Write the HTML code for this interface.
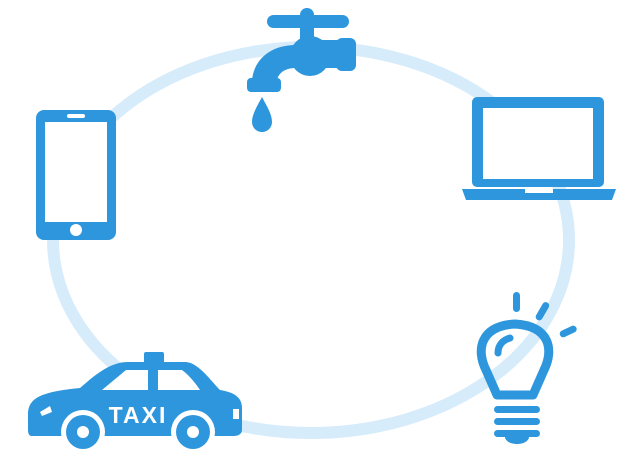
<!DOCTYPE html>
<html><head><style>html,body{margin:0;padding:0;background:#fff;}svg{display:block}</style></head>
<body>
<svg width="620" height="460" viewBox="0 0 620 460" xmlns="http://www.w3.org/2000/svg">
<ellipse cx="311" cy="240" rx="258" ry="193" fill="none" stroke="#d7ecfb" stroke-width="12"/>
<g fill="#2d96dd" stroke="none">
<rect x="267" y="15" width="82" height="13" rx="6.5"/>
<rect x="300" y="8" width="14" height="40" rx="7"/>
<circle cx="310" cy="56" r="20"/>
<rect x="318" y="40" width="24" height="28"/>
<rect x="336" y="38" width="20" height="33" rx="6"/>
<path d="M296 45 C270 45 254 60 252 80 L277 80 C279 72 286 68 296 68 Z"/>
<rect x="247" y="78" width="34" height="14" rx="4"/>
<path d="M262 97 C256 108 252 115 252 122 A10 10 0 0 0 272 122 C272 115 268 108 262 97Z"/>
<rect x="36" y="110" width="80" height="130" rx="8"/>
<rect x="45" y="122" width="62" height="100" fill="#fff"/>
<rect x="67" y="114" width="18" height="4" rx="2" fill="#fff"/>
<circle cx="76" cy="230" r="6" fill="#fff"/>
<rect x="472" y="97" width="132" height="90" rx="5"/>
<rect x="483" y="108" width="110" height="71" fill="#fff"/>
<path d="M462 189 H616 L612 200 H466 Z"/>
<rect x="525" y="189" width="28" height="4" fill="#fff"/>
<rect x="513" y="292" width="7" height="20" rx="3.5"/>
<rect x="539" y="301" width="7" height="20" rx="3.5" transform="rotate(30 542 311)"/>
<rect x="565" y="322" width="7" height="18" rx="3.5" transform="rotate(65 568 331)"/>
</g>
<g fill="none" stroke="#2d96dd" stroke-linecap="round">
<path d="M497 395 L486 370 C476 350 480 326 515 324 C550 326 554 350 544 370 L533 395 Z" stroke-width="9" stroke-linejoin="round"/>
<path d="M498 353 C498 345 503 340 510 338" stroke-width="7"/>
</g>
<g fill="#2d96dd">
<rect x="494" y="406" width="46" height="7" rx="3.5"/>
<rect x="494" y="418" width="46" height="7" rx="3.5"/>
<rect x="494" y="430" width="46" height="7" rx="3.5"/>
<path d="M505 437 H529 A12 7 0 0 1 505 437Z"/>
<rect x="144" y="352" width="20" height="12" rx="2"/>
<path d="M28 415 C28 398 40 392 80 388 C95 375 110 362 128 362 L185 362 C198 362 210 380 220 390 C232 392 242 396 242 408 L242 430 C242 434 238 436 234 436 L32 436 C28 436 28 432 28 428 Z"/>
<path d="M102 390 L126 370 L148 370 L148 390 Z" fill="#fff"/>
<path d="M158 370 L182 370 C190 376 196 384 200 390 L158 390 Z" fill="#fff"/>
<path d="M40 412 L50 406 L52 412 L42 416Z" fill="#fff"/>
<rect x="233" y="409" width="6" height="10" fill="#fff"/>
<circle cx="83" cy="432" r="22" fill="#fff"/>
<circle cx="83" cy="432" r="17"/>
<circle cx="83" cy="432" r="6" fill="#fff"/>
<circle cx="193" cy="432" r="22" fill="#fff"/>
<circle cx="193" cy="432" r="17"/>
<circle cx="193" cy="432" r="6" fill="#fff"/>
</g>
<text x="138" y="423" text-anchor="middle" font-family="Liberation Sans, sans-serif" font-weight="bold" font-size="23" fill="#fff" letter-spacing="2">TAXI</text>
</svg>
</body></html>
